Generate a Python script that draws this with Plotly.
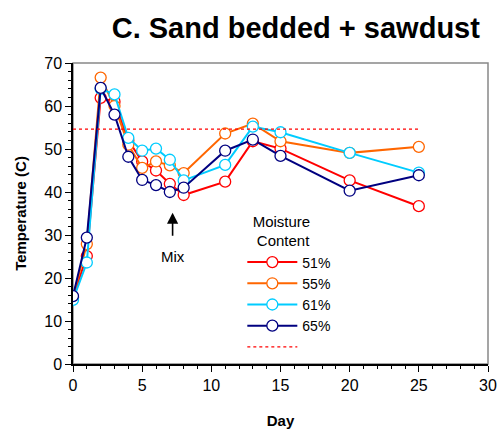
import plotly.graph_objects as go

days = [0, 1, 2, 3, 4, 5, 6, 7, 8, 11, 13, 15, 20, 25]
mc51 = [15.5, 25.1, 61.9, 61.0, 52.0, 47.1, 45.0, 41.9, 39.3, 42.4, 51.8, 50.1, 42.7, 36.7]
mc55 = [15.5, 27.9, 66.6, 60.0, 51.0, 45.6, 47.1, 46.2, 44.4, 53.6, 55.9, 51.8, 49.1, 50.5]
mc61 = [14.9, 23.6, 64.0, 62.7, 52.6, 49.6, 50.1, 47.5, 42.7, 46.3, 55.2, 53.9, 49.1, 44.5]
mc65 = [15.8, 29.4, 64.2, 58.0, 48.2, 42.8, 41.6, 40.0, 41.0, 49.6, 52.2, 48.4, 40.3, 43.9]
series_names = ["51%", "55%", "61%", "65%"]
series_values = [mc51, mc55, mc61, mc65]
colors = ["#FF0000", "#FF6600", "#00CCFF", "#000080"]
threshold_days = [0, 25]
threshold_value = [54.6, 54.6]
mix_day = 7.2

FONT = "Liberation Sans, Arial, sans-serif"

fig = go.Figure()
for name, vals, c in zip(series_names, series_values, colors):
    fig.add_trace(go.Scatter(
        x=days, y=vals, name=name, mode="lines+markers",
        line=dict(color=c, width=2),
        marker=dict(symbol="circle", size=11, color="white",
                    line=dict(color=c, width=1.3)),
    ))
fig.add_trace(go.Scatter(
    x=threshold_days, y=threshold_value, name="", mode="lines",
    line=dict(color="#FF0000", width=1.3, dash="dot"),
))

fig.add_annotation(x=mix_day, y=35.2, ax=mix_day, ay=29.5, axref="x", ayref="y",
                   xref="x", yref="y", text="", showarrow=True,
                   arrowhead=2, arrowsize=1.4, arrowwidth=1.6, arrowcolor="black")
fig.add_annotation(x=mix_day, y=25, xref="x", yref="y", text="Mix", showarrow=False,
                   font=dict(family=FONT, size=15, color="black"))

fig.add_shape(type="rect", xref="paper", yref="paper", x0=0, x1=1, y0=0, y1=1,
              line=dict(color="#888888", width=1.5), layer="below")

fig.update_layout(
    width=498, height=429,
    margin=dict(l=73, r=10, t=63, b=65, autoexpand=False),
    paper_bgcolor="white", plot_bgcolor="white",
    font=dict(family=FONT, size=14, color="black"),
    title=dict(text="<b>C. Sand bedded + sawdust</b>", x=0.594, xanchor="center",
               y=0.935, yanchor="middle", font=dict(family=FONT, size=29, color="black")),
    showlegend=True,
    legend=dict(x=0.408, y=0.52, xanchor="left", yanchor="top",
                bgcolor="rgba(0,0,0,0)", borderwidth=0,
                font=dict(family=FONT, size=14, color="black"),
                title=dict(text="&nbsp;&nbsp;Moisture<br>&nbsp;&nbsp;&nbsp;Content",
                           font=dict(family=FONT, size=15)),
                tracegroupgap=0, itemwidth=50),
    xaxis=dict(range=[0, 30], tickvals=[0, 5, 10, 15, 20, 25, 30], automargin=False,
               showgrid=False, zeroline=False, showline=True, linecolor="black", linewidth=1.5,
               ticks="outside", ticklen=6, tickcolor="black", tickwidth=1,
               minor=dict(dtick=1, ticks="outside", ticklen=3, tickcolor="black", showgrid=False),
               title=dict(text="<b>Day</b>", font=dict(family=FONT, size=15), standoff=24),
               tickfont=dict(family=FONT, size=16)),
    yaxis=dict(range=[0, 70], tickvals=list(range(0, 71, 10)), automargin=False,
               showgrid=False, zeroline=False, showline=True, linecolor="black", linewidth=1.5,
               ticks="outside", ticklen=6, tickcolor="black", tickwidth=1,
               minor=dict(dtick=2, ticks="outside", ticklen=3, tickcolor="black", showgrid=False),
               title=dict(text="<b>Temperature (C)</b>", font=dict(family=FONT, size=15), standoff=14),
               tickfont=dict(family=FONT, size=16)),
)

fig.write_html("out.html")
